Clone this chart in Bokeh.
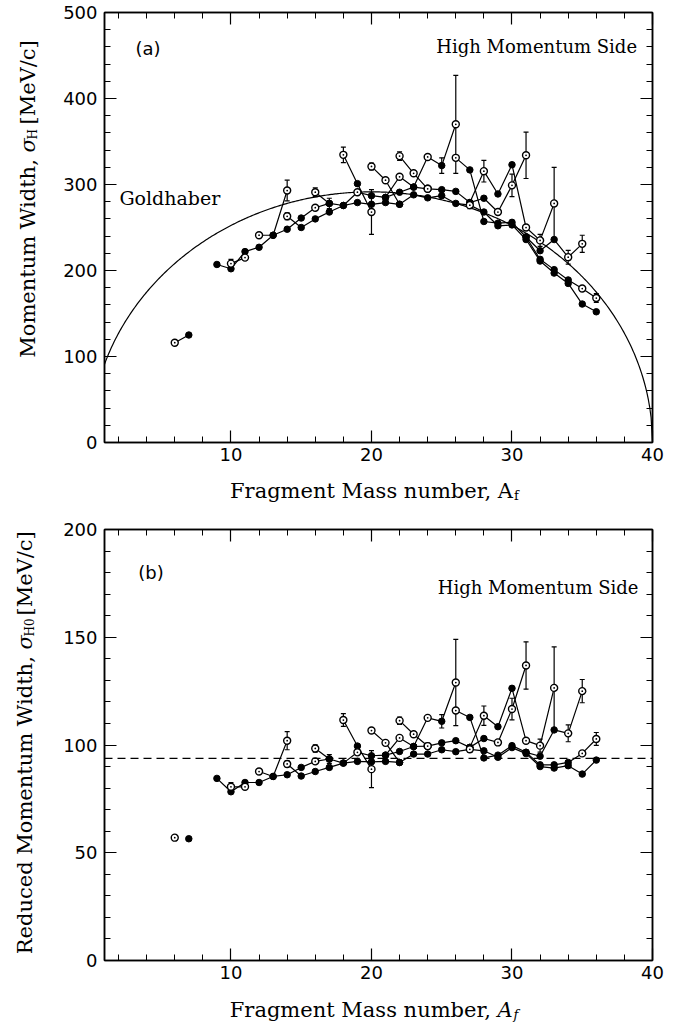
import numpy as np
from bokeh.plotting import figure
from bokeh.layouts import column, row
from bokeh.models import (Range1d, SingleIntervalTicker, LinearAxis, Label, Span,
                          CustomJSTickFormatter)
from bokeh.embed import file_html
from bokeh.resources import INLINE

# ---------------- data ----------------
PROJECTILE_A = 40
GOLDHABER_SIGMA0 = 91.0     # MeV/c, curve of panel (a)
REDUCED_SIGMA0 = 93.8       # MeV/c, dashed line of panel (b)

# one inner list per connected chain of isotopes
chain_mass = [
    [6, 7],
    [9, 10, 11, 12, 13, 14],
    [10, 11],
    [12, 13, 14, 15, 16, 17, 18, 19, 20, 21, 22, 23, 24, 25, 26, 27, 28, 29, 30, 31],
    [14, 15, 16, 17, 18, 19, 20, 21, 22, 23, 24, 25, 26, 27, 28, 29, 30, 31, 32, 33, 34, 35, 36],
    [16, 17],
    [18, 19, 20],
    [20, 21, 22],
    [22, 23, 24],
    [21, 22, 23, 24, 25, 26],
    [26, 27, 28, 29, 30, 31, 32, 33, 34, 35, 36],
    [27, 28, 29, 30, 31, 32, 33],
    [31, 32, 33, 34, 35],
]
# momentum width sigma_H [MeV/c], panel (a)
chain_sigma_h = [
    [116, 125],
    [207, 202, 222, 227, 241, 293],
    [208, 215],
    [241, 241, 248, 261, 273, 278, 275.6, 291, 287, 285, 291, 297, 295, 294, 292, 279, 284, 268, 299, 334],
    [263, 250, 260, 268, 275.6, 279, 277, 279, 277, 288, 284.5, 287, 278, 276, 268, 252, 253, 236, 211, 197, 185, 161, 152],
    [291, 278],
    [334.5, 301, 268],
    [321, 305, 277],
    [333, 313, 295],
    [285, 309, 297, 332, 322, 370],
    [331, 317, 257, 255, 256, 239, 213, 201, 189, 179, 168],
    [279, 315.5, 289, 323, 250, 235, 278],
    [239, 223, 236, 215.5, 231],
]
# reduced momentum width sigma_H0 [MeV/c], panel (b)
chain_sigma_h0 = [
    [57, 56.5],
    [84.5, 78.3, 82.6, 82.6, 85.4, 102],
    [80.6, 80.6],
    [87.7, 85.4, 86.2, 89.6, 92.4, 93.5, 91.6, 96.6, 95.0, 95.3, 97.0, 99.3, 99.5, 101.0, 102.0, 98.9, 103.0, 101.2, 116.7, 136.9],
    [91.2, 85.6, 87.7, 89.6, 91.6, 92.4, 92.2, 92.4, 91.9, 95.8, 95.8, 97.8, 96.9, 98.0, 97.3, 94.3, 98.8, 96.0, 90.0, 89.3, 90.4, 86.5, 93.0],
    [98.4, 93.5],
    [111.6, 99.5, 88.8],
    [106.7, 101.0, 91.9],
    [111.3, 105.0, 99.5],
    [95.3, 103.3, 99.3, 112.6, 111.0, 129.0],
    [116.0, 112.8, 94.0, 95.3, 99.7, 96.6, 90.8, 90.8, 91.9, 96.1, 102.8],
    [98.9, 113.6, 108.5, 126.3, 102.0, 99.7, 126.5],
    [96.6, 94.8, 107.0, 105.4, 125.0],
]
# 1 = open symbol, 0 = filled symbol
chain_hollow = [
    [1, 0],
    [0, 0, 0, 0, 0, 1],
    [1, 1],
    [1, 0, 0, 0, 1, 0, 0, 1, 0, 0, 0, 0, 1, 0, 0, 0, 0, 1, 1, 1],
    [1, 0, 0, 0, 0, 0, 0, 0, 0, 0, 0, 0, 0, 1, 0, 0, 0, 0, 0, 0, 0, 0, 0],
    [1, 0],
    [1, 0, 1],
    [1, 1, 0],
    [1, 1, 1],
    [0, 1, 0, 1, 0, 1],
    [1, 0, 0, 0, 0, 0, 0, 0, 0, 1, 1],
    [0, 1, 0, 0, 1, 1, 1],
    [0, 0, 0, 1, 1],
]
# error bars (half length) panel (a)
chain_err_h = [
    [0, 0],
    [0, 0, 0, 0, 0, 12],
    [5, 0],
    [0, 0, 0, 0, 0, 6, 0, 0, 0, 0, 0, 0, 0, 0, 0, 0, 0, 0, 13, 27],
    [4, 0, 0, 0, 0, 0, 0, 0, 0, 0, 0, 0, 0, 4, 0, 0, 0, 0, 0, 0, 0, 0, 0],
    [5, 0],
    [9, 0, 26],
    [4, 0, 0],
    [5, 0, 0],
    [0, 0, 0, 0, 9, 57],
    [0, 0, 0, 0, 0, 0, 0, 0, 0, 0, 5],
    [0, 12.6, 0, 0, 0, 7, 42],
    [0, 0, 0, 8, 10],
]
# error bars (half length) panel (b)
chain_err_h0 = [
    [0, 0],
    [0, 0, 0, 0, 0, 4.2],
    [2, 0],
    [0, 0, 0, 0, 0, 2, 0, 0, 0, 0, 0, 0, 0, 0, 0, 0, 0, 0, 5, 11],
    [1.4, 0, 0, 0, 0, 0, 0, 0, 0, 0, 0, 0, 0, 1.4, 0, 0, 0, 0, 0, 0, 0, 0, 0],
    [1.7, 0],
    [3, 0, 8.6],
    [1.3, 0, 0],
    [1.7, 0, 0],
    [0, 0, 0, 0, 3.1, 20],
    [0, 0, 0, 0, 0, 0, 0, 0, 0, 0, 3],
    [0, 4.5, 0, 0, 0, 3, 19],
    [0, 0, 0, 3.9, 5.4],
]
# whether the chain is joined by a line in panel (b)
chain_linked_h0 = [False] + [True] * 12

SERIF = "DejaVu Serif"
SANS = "DejaVu Sans"


def style(p, y_major, y_minor_n):
    p.outline_line_color = "black"
    p.outline_line_width = 1.5
    p.xgrid.visible = False
    p.ygrid.visible = False
    p.background_fill_color = "white"
    p.border_fill_color = "white"
    xt = SingleIntervalTicker(interval=10, num_minor_ticks=5)
    yt = SingleIntervalTicker(interval=y_major, num_minor_ticks=y_minor_n)
    p.xaxis.ticker = xt
    p.yaxis.ticker = yt
    blank = CustomJSTickFormatter(code="return ''")
    p.add_layout(LinearAxis(ticker=xt, formatter=blank, major_label_standoff=0), "above")
    p.add_layout(LinearAxis(ticker=yt, formatter=blank, major_label_standoff=0), "right")
    for ax in p.axis:
        ax.axis_line_color = "black"
        ax.axis_line_width = 1.5
        ax.major_tick_in = 12
        ax.major_tick_out = 0
        ax.minor_tick_in = 6
        ax.minor_tick_out = 0
        ax.major_tick_line_width = 1.2
        ax.minor_tick_line_width = 1.0
        ax.major_tick_line_color = "black"
        ax.minor_tick_line_color = "black"
        ax.major_label_text_font = SANS
        ax.major_label_text_font_size = "18px"
        ax.major_label_text_color = "black"
        ax.axis_label = None
    p.xaxis[0].major_label_standoff = 11
    p.yaxis[0].major_label_standoff = 7


def draw_data(p, values, errors, linked):
    ex, elo, ehi = [], [], []
    fx, fy, hx, hy = [], [], [], []
    for i, masses in enumerate(chain_mass):
        vals = values[i]
        if linked[i]:
            p.line(masses, vals, line_color="black", line_width=1.2)
        for a, v, e, h in zip(masses, vals, errors[i], chain_hollow[i]):
            if e > 0:
                ex.append(a)
                elo.append(v - e)
                ehi.append(v + e)
            if h:
                hx.append(a)
                hy.append(v)
            else:
                fx.append(a)
                fy.append(v)
    p.segment(x0=ex, y0=elo, x1=ex, y1=ehi, line_color="black", line_width=1.2)
    p.scatter(ex + ex, elo + ehi, marker="dash", size=5, line_color="black", line_width=1.2)
    p.scatter(fx, fy, marker="circle", size=6.5, fill_color="black", line_color="black")
    p.scatter(hx, hy, marker="circle_dot", size=7, fill_color="white",
              line_color="black", line_width=1.4)


def lab(p, x, y, text, size="18px", font=SERIF, style_="normal", align="left",
        baseline="middle", angle=0.0, xo=0, yo=0):
    p.add_layout(Label(x=x, y=y, text=text, text_font=font, text_font_size=size,
                       text_font_style=style_, text_align=align, text_baseline=baseline,
                       angle=angle, x_offset=xo, y_offset=yo, text_color="black"))


def blank_fig(w, h):
    f = figure(width=w, height=h, x_range=Range1d(0, w), y_range=Range1d(0, h),
               output_backend="svg", toolbar_location=None, min_border=0,
               x_axis_type=None, y_axis_type=None)
    f.outline_line_color = None
    f.grid.visible = False
    f.background_fill_color = "white"
    f.border_fill_color = "white"
    return f


# ---------------- panel (a) ----------------
p1 = figure(width=640, height=478, x_range=Range1d(1, 40), y_range=Range1d(0, 500),
            output_backend="svg", toolbar_location=None,
            min_border_left=54, min_border_right=35, min_border_top=12, min_border_bottom=36)
style(p1, 100, 5)

a_curve = np.linspace(1, PROJECTILE_A, 400)
g_curve = GOLDHABER_SIGMA0 * np.sqrt(a_curve * (PROJECTILE_A - a_curve) / (PROJECTILE_A - 1))
p1.line(a_curve, g_curve, line_color="black", line_width=1.2)
draw_data(p1, chain_sigma_h, chain_err_h, [True] * len(chain_mass))

lab(p1, 3.2, 458, "(a)", size="18px", font=SANS)
lab(p1, 38.9, 461, "High Momentum Side", size="18px", align="right")
lab(p1, 2.06, 284, "Goldhaber", size="19px")

# ---------------- panel (b) ----------------
p2 = figure(width=640, height=491, x_range=Range1d(1, 40), y_range=Range1d(0, 200),
            output_backend="svg", toolbar_location=None,
            min_border_left=50, min_border_right=38, min_border_top=24, min_border_bottom=36)
style(p2, 50, 5)
p2.add_layout(Span(location=REDUCED_SIGMA0, dimension="width", line_color="black",
                   line_width=1.2, line_dash="8 5"))
draw_data(p2, chain_sigma_h0, chain_err_h0, chain_linked_h0)

lab(p2, 3.4, 180, "(b)", size="18px", font=SANS)
lab(p2, 39.0, 173, "High Momentum Side", size="18px", align="right")

# ---------------- axis titles (own strips, pixel coordinates) ----------------
half = np.pi / 2
ylab = blank_fig(50, 1027)
# panel (a) title, anchored at the start of sigma
lab(ylab, 27, 875, "Momentum Width, ", size="21px", align="right", angle=half)
lab(ylab, 27, 875, "σ", size="21px", style_="italic", angle=half)
lab(ylab, 27, 875, "H", size="12px", angle=half, xo=5, yo=13)
lab(ylab, 27, 875, "[MeV/c]", size="21px", angle=half, yo=28)
# panel (b) title
lab(ylab, 24, 378, "Reduced Momentum Width, ", size="21px", align="right", angle=half)
lab(ylab, 24, 378, "σ", size="21px", style_="italic", angle=half)
lab(ylab, 24, 378, "H0", size="12px", angle=half, xo=5, yo=13)
lab(ylab, 24, 378, "[MeV/c]", size="21px", angle=half, yo=34)

xl1 = blank_fig(640, 27)
lab(xl1, 477, 15, "Fragment Mass number, A", size="21px", align="right")
lab(xl1, 477, 15, "f", size="13px", yo=-5, xo=1)

xl2 = blank_fig(640, 31)
lab(xl2, 459, 18, "Fragment Mass number, ", size="21px", align="right")
lab(xl2, 459, 18, "A", size="21px", style_="italic")
lab(xl2, 459, 18, "f", size="13px", style_="italic", xo=16, yo=-5)

layout = row(ylab, column(p1, xl1, p2, xl2, spacing=0), spacing=0)
open("out.html", "w").write(file_html(layout, INLINE))
